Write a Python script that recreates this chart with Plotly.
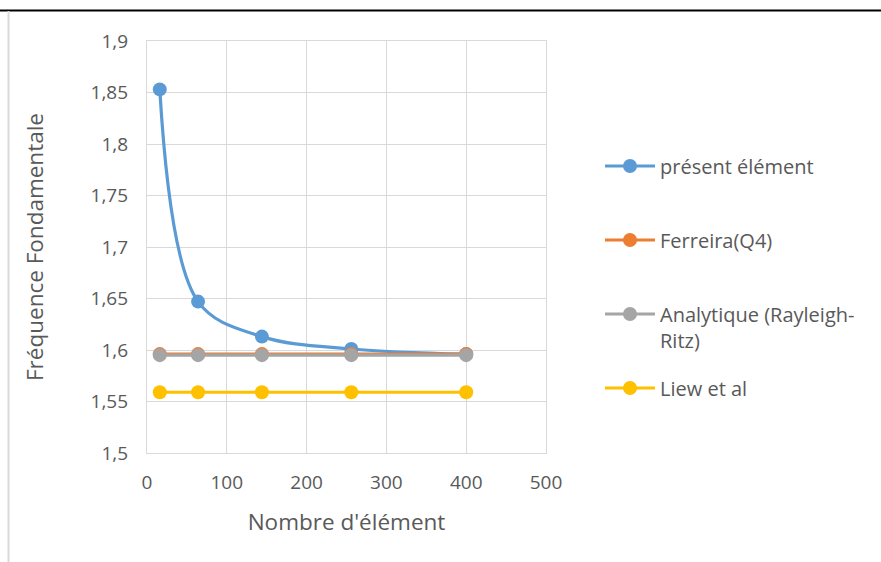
import plotly.graph_objects as go

x_elements = [16, 64, 144, 256, 400]
present = [1.853, 1.647, 1.613, 1.601, 1.596]
ferreira = [1.596, 1.596, 1.596, 1.596, 1.596]
analytique = [1.595, 1.595, 1.595, 1.595, 1.595]
liew = [1.559, 1.559, 1.559, 1.559, 1.559]

names = ["présent élément", "Ferreira(Q4)", "Analytique (Rayleigh-<br>Ritz)", "Liew et al"]
colors = ["#5B9BD5", "#ED7D31", "#A5A5A5", "#FFC000"]
series = [present, ferreira, analytique, liew]
shapes_line = ["spline", "linear", "linear", "linear"]
legend_ids = ["legend", "legend2", "legend3", "legend4"]
legend_centers_px = [166, 240, 327, 388]

FONT = "Open Sans"
TXT = "#595959"

W, H = 881, 562
L, R, T, B = 147, 546, 41, 453

fig = go.Figure()
for nm, col, ys, sh, lg in zip(names, colors, series, shapes_line, legend_ids):
    fig.add_trace(go.Scatter(
        x=x_elements, y=ys, name=nm, mode="lines+markers",
        line=dict(color=col, width=3.2, shape=sh, smoothing=1.0),
        marker=dict(color=col, size=14),
        legend=lg,
    ))

legend_layout = {}
for lg, cy in zip(legend_ids, legend_centers_px):
    legend_layout[lg] = dict(
        x=(600 - L) / (R - L), y=(B - cy) / (B - T), xanchor="left", yanchor="middle",
        font=dict(size=20, color=TXT, family=FONT), itemwidth=50, valign="top",
        bgcolor="rgba(0,0,0,0)")

fig.update_layout(
    width=W, height=H,
    margin=dict(l=L, r=W - R, t=T, b=H - B),
    paper_bgcolor="white", plot_bgcolor="white",
    font=dict(family=FONT, color=TXT, size=19),
    showlegend=True,
    xaxis=dict(range=[0, 500], dtick=100, showgrid=True, gridcolor="#D9D9D9", gridwidth=1.3,
               zeroline=False, showline=True, linecolor="#D9D9D9", linewidth=1.3, mirror=True,
               ticks="", ticklabelstandoff=12,
               tickfont=dict(size=19, color=TXT),
               title=dict(text="Nombre d'élément", font=dict(size=22.5, color=TXT), standoff=20)),
    yaxis=dict(range=[1.5, 1.9], dtick=0.05, showgrid=True, gridcolor="#D9D9D9", gridwidth=1.3,
               zeroline=False, showline=True, linecolor="#D9D9D9", linewidth=1.3, mirror=True,
               ticks="", tickformat=".2~f",
               tickfont=dict(size=19, color=TXT), ticklabelstandoff=14,
               title=dict(text="Fréquence Fondamentale", font=dict(size=22.5, color=TXT), standoff=40)),
    separators=", ",
    shapes=[
        dict(type="line", xref="paper", yref="paper",
             x0=-L / (R - L), x1=(W - L) / (R - L),
             y0=(B - 10.5) / (B - T), y1=(B - 10.5) / (B - T),
             line=dict(color="black", width=2)),
        dict(type="line", xref="paper", yref="paper",
             x0=(8.5 - L) / (R - L), x1=(8.5 - L) / (R - L),
             y0=(B - 11) / (B - T), y1=(B - H) / (B - T),
             line=dict(color="#D9D9D9", width=2)),
    ],
    **legend_layout,
)

fig.write_html("out.html")
